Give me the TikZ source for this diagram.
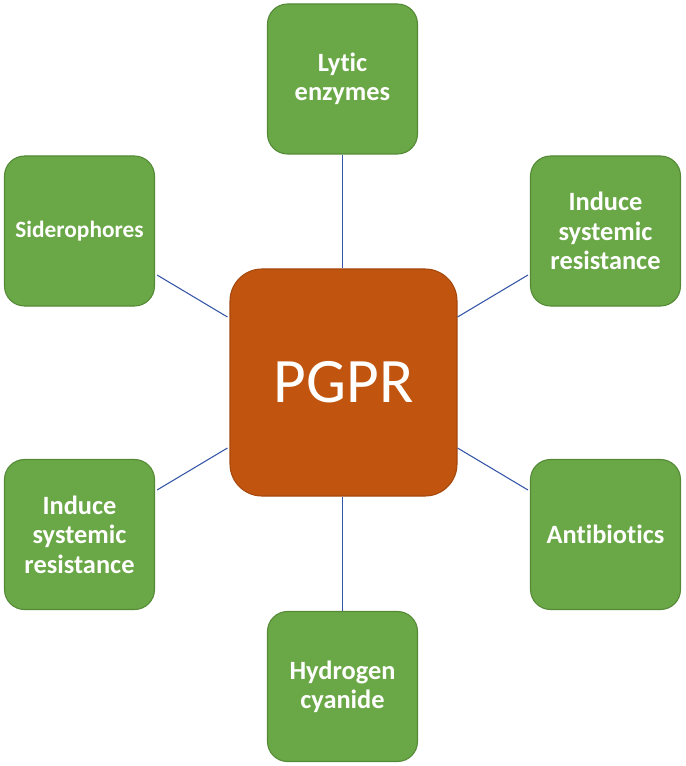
\documentclass[tikz,border=0pt]{standalone}
\usepackage{fontspec}
\setmainfont{Carlito}[Ligatures={NoCommon}]
\usetikzlibrary{calc}
\definecolor{boxgreen}{HTML}{6AA746}
\definecolor{boxgreenline}{HTML}{548A36}
\definecolor{boxorange}{HTML}{C1550F}
\definecolor{boxorangeline}{HTML}{A4480E}
\definecolor{linkblue}{HTML}{3556A6}
\tikzset{
  px/.style={x=0.75pt,y=-0.75pt},
  leaf/.style={draw=boxgreenline, line width=0.8pt, fill=boxgreen, rounded corners=15pt,
    minimum width=112.5pt, minimum height=112.5pt, inner sep=0pt, align=center,
    text=white, font=\fontsize{19.8}{22}\selectfont\bfseries},
  smallleaf/.style={leaf, font=\fontsize{17.5}{22}\selectfont\bfseries},
  hub/.style={draw=boxorangeline, line width=0.8pt, fill=boxorange, rounded corners=24pt,
    minimum width=170.25pt, minimum height=170.25pt, inner sep=0pt,
    text=white, font=\fontsize{47.5}{50}\selectfont},
  link/.style={draw=linkblue, line width=0.8pt}
}
\begin{document}
\begin{tikzpicture}[px]
\useasboundingbox (0,0) rectangle (685,766);
\node[hub] (hub) at (343.5,382.5) {PGPR};
\node[leaf] (top) at (342.5,79) {Lytic\\enzymes};
\node[smallleaf] (sid) at (79.5,231) {Siderophores};
\node[leaf] (tr) at (605.5,231) {Induce\\systemic\\resistance};
\node[leaf] (bl) at (79.5,534.5) {Induce\\systemic\\resistance};
\node[leaf] (br) at (605.5,534.5) {Antibiotics};
\node[leaf] (bot) at (342.5,686.5) {Hydrogen\\cyanide};
\draw[link] (top.south) -- (top.south |- hub.north);
\draw[link] (bot.north) -- (bot.north |- hub.south);
\draw[link] ($(sid.east)+(2,44)$) -- ($(hub.west)+(-2,-65.5)$);
\draw[link] ($(tr.west)+(-2,44)$) -- ($(hub.east)+(0,-65.5)$);
\draw[link] ($(bl.east)+(2,-44.5)$) -- ($(hub.west)+(-2,65.5)$);
\draw[link] ($(br.west)+(-2,-44.5)$) -- ($(hub.east)+(0,65.5)$);
\end{tikzpicture}
\end{document}
